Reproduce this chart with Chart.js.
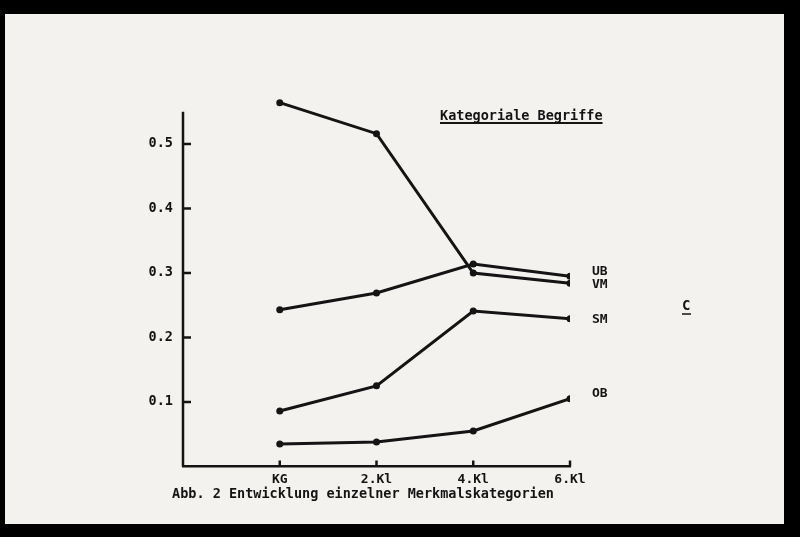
<!DOCTYPE html>
<html>
<head>
<meta charset="utf-8">
<script src="https://cdn.jsdelivr.net/npm/chart.js@4.4.1/dist/chart.umd.min.js"></script>
<style>
  html, body { margin: 0; padding: 0; background: #000; }
  #wrap { width: 800px; height: 537px; }
</style>
</head>
<body>
<div id="wrap"><canvas id="chart" width="800" height="537"></canvas></div>
<script>
// values
var categories = ['KG', '2.Kl', '4.Kl', '6.Kl'];
var vmValues = [0.564, 0.516, 0.300, 0.284];
var ubValues = [0.243, 0.269, 0.314, 0.295];
var smValues = [0.086, 0.125, 0.241, 0.229];
var obValues = [0.035, 0.038, 0.055, 0.105];
var yTickValues = [0.1, 0.2, 0.3, 0.4, 0.5];
var yAxisTop = 0.55;
var chartTitle = 'Kategoriale Begriffe';
var caption = 'Abb. 2 Entwicklung einzelner Merkmalskategorien';

var ink = '#141414';
var paper = '#f3f2ef';
var typeFont = '"DejaVu Sans Mono", "Liberation Mono", monospace';

function toPoints(vals) {
	return vals.map(function(v, i) { return {x: i, y: v}; });
}

function lineSet(name, vals) {
	return {
		label: name,
		data: toPoints(vals),
		borderColor: ink,
		backgroundColor: ink,
		borderWidth: 3,
		pointRadius: 3.5,
		pointBackgroundColor: ink,
		pointBorderWidth: 0,
		tension: 0
	};
}

// small vertical nudges so the end labels sit like on the slide
var labelNudge = {VM: 1, UB: -5, SM: 1, OB: -5};

var slidePlugin = {
	id: 'slide',
	beforeDraw: function(chart) {
		var ctx = chart.ctx;
		ctx.save();
		ctx.fillStyle = '#000';
		ctx.fillRect(0, 0, chart.width, chart.height);
		ctx.fillStyle = paper;
		ctx.fillRect(5, 14, 779, 510);
		ctx.restore();
	},
	afterDraw: function(chart) {
		var ctx = chart.ctx;
		var xs = chart.scales.x, ys = chart.scales.y;
		var area = chart.chartArea;
		ctx.save();
		ctx.strokeStyle = ink;
		ctx.fillStyle = ink;
		ctx.lineWidth = 2.5;
		// y axis line, stops at 0.55 like the drawing
		ctx.beginPath();
		ctx.moveTo(area.left, ys.getPixelForValue(0));
		ctx.lineTo(area.left, ys.getPixelForValue(yAxisTop));
		ctx.stroke();
		// inward ticks on y axis
		yTickValues.forEach(function(v) {
			var py = ys.getPixelForValue(v);
			ctx.beginPath();
			ctx.moveTo(area.left, py);
			ctx.lineTo(area.left + 8, py);
			ctx.stroke();
		});
		// upward ticks on x axis
		categories.forEach(function(c, i) {
			var px = xs.getPixelForValue(i);
			ctx.beginPath();
			ctx.moveTo(px, area.bottom);
			ctx.lineTo(px, area.bottom - 6);
			ctx.stroke();
		});
		// series names at line ends
		ctx.font = 'bold 13px ' + typeFont;
		ctx.textAlign = 'left';
		ctx.textBaseline = 'middle';
		chart.data.datasets.forEach(function(ds, di) {
			var meta = chart.getDatasetMeta(di);
			var last = meta.data[meta.data.length - 1];
			ctx.fillText(ds.label, last.x + 22, last.y + (labelNudge[ds.label] || 0));
		});
		// title, underlined
		ctx.font = 'bold 13.5px ' + typeFont;
		ctx.textBaseline = 'alphabetic';
		var tx = 440, ty = 120;
		ctx.fillText(chartTitle, tx, ty);
		var tw = ctx.measureText(chartTitle).width;
		ctx.lineWidth = 2;
		ctx.beginPath();
		ctx.moveTo(tx, ty + 3);
		ctx.lineTo(tx + tw, ty + 3);
		ctx.stroke();
		// caption
		ctx.fillText(caption, 172, 498);
		// stray mark at the right
		ctx.font = 'bold 14px ' + typeFont;
		ctx.fillText('C', 682, 310);
		ctx.lineWidth = 1.5;
		ctx.beginPath();
		ctx.moveTo(682, 314);
		ctx.lineTo(691, 314);
		ctx.stroke();
		ctx.restore();
	}
};

var ctx = document.getElementById('chart').getContext('2d');
new Chart(ctx, {
	type: 'line',
	data: {
		datasets: [
			lineSet('UB', ubValues),
			lineSet('VM', vmValues),
			lineSet('SM', smValues),
			lineSet('OB', obValues)
		]
	},
	options: {
		responsive: false,
		animation: false,
		layout: {padding: {left: 143, right: 230, top: 95.6, bottom: 30.5}},
		plugins: {legend: {display: false}, tooltip: {enabled: false}},
		scales: {
			x: {
				type: 'linear',
				min: -1,
				max: 3,
				afterFit: function(s) { s.height = 40; },
				grid: {display: false, drawTicks: false},
				border: {display: true, color: ink, width: 2.5},
				ticks: {
					stepSize: 1,
					autoSkip: false,
					padding: 5,
					color: ink,
					font: {family: typeFont, size: 13, weight: 'bold'},
					callback: function(v) { return categories[v] || ''; }
				}
			},
			y: {
				min: 0,
				max: 0.575,
				afterFit: function(s) { s.width = 40; },
				grid: {display: false, drawTicks: false},
				border: {display: false},
				afterBuildTicks: function(s) {
					s.ticks = yTickValues.map(function(v) { return {value: v}; });
				},
				ticks: {
					padding: 10,
					color: ink,
					font: {family: typeFont, size: 13.5, weight: 'bold'},
					callback: function(v) { return v.toFixed(1); }
				}
			}
		}
	},
	plugins: [slidePlugin]
});
</script>
</body>
</html>
